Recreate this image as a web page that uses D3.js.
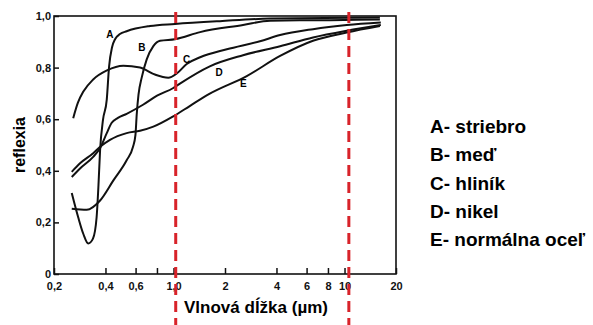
<!DOCTYPE html>
<html>
<head>
<meta charset="utf-8">
<script src="https://cdn.jsdelivr.net/npm/d3@7"></script>
<style>
  html, body { margin: 0; padding: 0; background: #fff; }
  svg { display: block; font-family: "Liberation Sans", Arial, sans-serif; }
</style>
</head>
<body>
<svg id="chart" width="593" height="325"></svg>
<script>
// wavelength (um) and reflectance
const curveIds = ["A", "B", "C", "D", "E"];
const legendLabels = ["A- striebro", "B- meď", "C- hliník", "D- nikel", "E- normálna oceľ"];

const waveA = [0.254, 0.277, 0.297, 0.317, 0.338, 0.355, 0.364, 0.372, 0.387, 0.407, 0.420, 0.437, 0.455, 0.486, 0.532, 0.728, 1.02, 1.87, 3.67, 16.1];
const reflA = [0.314, 0.220, 0.155, 0.118, 0.137, 0.220, 0.344, 0.480, 0.598, 0.676, 0.805, 0.879, 0.910, 0.930, 0.941, 0.961, 0.969, 0.980, 0.990, 0.994];

const waveB = [0.254, 0.311, 0.372, 0.445, 0.532, 0.579, 0.599, 0.609, 0.624, 0.652, 0.697, 0.762, 0.834, 1.02, 1.43, 2.55, 3.67, 8.22, 16.1];
const reflB = [0.253, 0.249, 0.285, 0.363, 0.441, 0.492, 0.539, 0.617, 0.695, 0.762, 0.832, 0.883, 0.904, 0.910, 0.9375, 0.965, 0.982, 0.984, 0.986];

const waveC = [0.259, 0.276, 0.297, 0.339, 0.408, 0.509, 0.637, 0.779, 0.932, 1.044, 1.194, 1.43, 2.05, 3.20, 4.20, 6.54, 10.3, 16.3];
const reflC = [0.604, 0.664, 0.707, 0.754, 0.789, 0.807, 0.800, 0.773, 0.761, 0.777, 0.814, 0.840, 0.871, 0.902, 0.926, 0.949, 0.965, 0.975];

const waveD = [0.254, 0.284, 0.339, 0.372, 0.407, 0.435, 0.473, 0.532, 0.663, 0.801, 0.997, 1.09, 1.63, 2.55, 4.20, 6.54, 10.3, 16.3];
const reflD = [0.376, 0.409, 0.454, 0.488, 0.546, 0.586, 0.605, 0.621, 0.656, 0.691, 0.721, 0.738, 0.805, 0.848, 0.883, 0.917, 0.943, 0.965];

const waveE = [0.254, 0.284, 0.339, 0.372, 0.425, 0.532, 0.637, 0.762, 0.997, 1.25, 1.63, 2.68, 4.20, 6.54, 10.3, 16.1];
const reflE = [0.396, 0.429, 0.468, 0.493, 0.520, 0.546, 0.555, 0.571, 0.611, 0.652, 0.699, 0.767, 0.845, 0.904, 0.936, 0.961];

// where the curve letters sit (wavelength, reflectance)
const letterWave = [0.425, 0.652, 1.194, 1.85, 2.56];
const letterRefl = [0.93, 0.878, 0.832, 0.782, 0.738];

const xTickValues = [0.2, 0.4, 0.6, 0.8, 1, 2, 4, 6, 8, 10, 20];
const xTickLabels = ["0,2", "0,4", "0,6", "", "1,0", "2", "4", "6", "8", "10", "20"];
const yTickValues = [0, 0.2, 0.4, 0.6, 0.8, 1.0];
const yTickLabels = ["0", "0,2", "0,4", "0,6", "0,8", "1,0"];

// red dashed markers drawn over the scan
const markerWaves = [1.03, 10.6];

const waves = [waveA, waveB, waveC, waveD, waveE];
const refls = [reflA, reflB, reflC, reflD, reflE];

const svg = d3.select("#chart");

const x = d3.scaleLog().domain([0.2, 20]).range([54, 396]);
const y = d3.scaleLinear().domain([0, 1]).range([274, 16]);

// frame
svg.append("rect")
  .attr("x", x(0.2)).attr("y", y(1))
  .attr("width", x(20) - x(0.2)).attr("height", y(0) - y(1))
  .attr("fill", "none").attr("stroke", "#111").attr("stroke-width", 1.6);

// axes, ticks pointing inwards
const xAxis = svg.append("g")
  .attr("transform", "translate(0," + y(0) + ")")
  .call(d3.axisBottom(x)
    .tickValues(xTickValues)
    .tickFormat((d, i) => xTickLabels[i])
    .tickSizeInner(-6).tickSizeOuter(0).tickPadding(8));
xAxis.select(".domain").remove();

const yAxis = svg.append("g")
  .attr("transform", "translate(" + x(0.2) + ",0)")
  .call(d3.axisLeft(y)
    .tickValues(yTickValues)
    .tickFormat((d, i) => yTickLabels[i])
    .tickSizeInner(-5).tickSizeOuter(0).tickPadding(3));
yAxis.select(".domain").remove();

svg.selectAll(".tick line").attr("stroke", "#111").attr("stroke-width", 1.5);
svg.selectAll(".tick text")
  .attr("fill", "#111")
  .style("font-size", "11px")
  .style("font-weight", "bold")
  .style("font-family", "'Liberation Sans', Arial, sans-serif");

// curves
const line = d3.line()
  .x(d => x(d[0]))
  .y(d => y(d[1]))
  .curve(d3.curveMonotoneX);

svg.selectAll(".curve")
  .data(curveIds)
  .enter()
  .append("path")
  .attr("class", "curve")
  .attr("d", (id, i) => line(waves[i].map((w, j) => [w, refls[i][j]])))
  .attr("fill", "none")
  .attr("stroke", "#111")
  .attr("stroke-width", 2)
  .attr("stroke-linejoin", "round");

svg.selectAll(".letter")
  .data(curveIds)
  .enter()
  .append("text")
  .attr("class", "letter")
  .attr("x", (d, i) => x(letterWave[i]))
  .attr("y", (d, i) => y(letterRefl[i]))
  .attr("text-anchor", "middle")
  .attr("dominant-baseline", "central")
  .style("font-size", "10px")
  .style("font-weight", "bold")
  .text(d => d);

// red dashed lines
svg.selectAll(".marker")
  .data(markerWaves)
  .enter()
  .append("line")
  .attr("x1", d => x(d)).attr("x2", d => x(d))
  .attr("y1", 12).attr("y2", 325)
  .attr("stroke", "#d8232a")
  .attr("stroke-width", 3)
  .attr("stroke-dasharray", "11,6");

// axis titles
svg.append("text")
  .attr("transform", "translate(25,145) rotate(-90)")
  .attr("text-anchor", "middle")
  .style("font-size", "16px")
  .style("font-weight", "bold")
  .text("reflexia");

svg.append("text")
  .attr("x", 256).attr("y", 313)
  .attr("text-anchor", "middle")
  .style("font-size", "17px")
  .style("font-weight", "bold")
  .text("Vlnová dĺžka (µm)");

// legend
svg.selectAll(".legend")
  .data(legendLabels)
  .enter()
  .append("text")
  .attr("class", "legend")
  .attr("x", 430)
  .attr("y", (d, i) => 133 + i * 28.3)
  .style("font-size", "19px")
  .style("font-weight", "bold")
  .text(d => d);
</script>
</body>
</html>
